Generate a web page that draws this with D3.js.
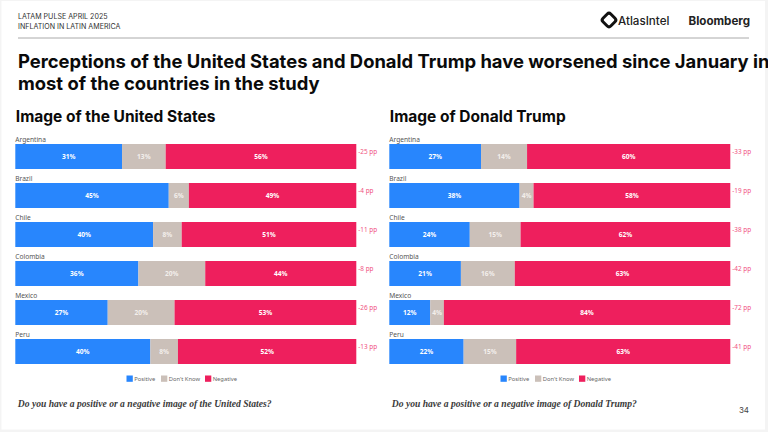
<!DOCTYPE html>
<html><head><meta charset="utf-8">
<script src="https://cdn.jsdelivr.net/npm/d3@7"></script>
<style>html,body{margin:0;padding:0;background:#f4f4f4;overflow:hidden}svg{display:block}</style>
</head><body><svg id="c" width="768" height="432"></svg>
<script>
const countries = ["Argentina","Brazil","Chile","Colombia","Mexico","Peru"];
const categories = ["Positive","Don't Know","Negative"];
const colors = ["#2886fd","#cbc0b9","#ee1f5d"];
const usPositive = [31.3,45.0,40.4,36.1,27.1,39.6];
const usDontKnow = [12.8,5.9,8.4,19.6,19.6,8.1];
const usNegative = [55.9,49.1,51.2,44.3,53.3,52.3];
const usChange = ["-25 pp","-4 pp","-11 pp","-8 pp","-26 pp","-13 pp"];
const trumpPositive = [26.9,38.2,23.6,21.0,12.0,21.8];
const trumpDontKnow = [13.5,4.1,14.9,15.8,4.0,15.4];
const trumpNegative = [59.6,57.7,61.5,63.2,84.0,62.8];
const trumpChange = ["-33 pp","-19 pp","-38 pp","-42 pp","-72 pp","-41 pp"];

const svg = d3.select("#c");
svg.append("rect").attr("x",1.5).attr("y",1).attr("width",763.5).attr("height",428.5).attr("fill","#fff");
const sans = "Inter, 'Noto Sans', sans-serif";
function txt(x,y,s,size,weight,fill,font,anchor,style){
  return svg.append("text").attr("x",x).attr("y",y).text(s).attr("font-size",size).attr("font-weight",weight)
   .attr("fill",fill).attr("font-family",font||sans).attr("text-anchor",anchor||"start").attr("font-style",style||"normal");
}
txt(18,19,"LATAM PULSE APRIL 2025",7.1,400,"#333");
txt(18,28.5,"INFLATION IN LATIN AMERICA",7.1,400,"#333");
svg.append("line").attr("x1",18).attr("x2",749).attr("y1",38).attr("y2",38).attr("stroke","#aaa").attr("stroke-width",1);
txt(18,68,"Perceptions of the United States and Donald Trump have worsened since January in",18.4,700,"#0a0a0a");
txt(18,90,"most of the countries in the study",18.4,700,"#0a0a0a");

// logos
svg.append("rect").attr("x",603.5).attr("y",14.5).attr("width",11).attr("height",11).attr("rx",2.5)
  .attr("transform","rotate(45 609 20)").attr("fill","none").attr("stroke","#111").attr("stroke-width",3);
txt(618,25,"AtlasIntel",11.6,500,"#222");
txt(688.5,24.5,"Bloomberg",11.6,700,"#222");
txt(749,198+0,"",8);
txt(749,413,"34",8,400,"#444",null,"end");

function panel(title,x0,question,pos,dk,neg,change,legendX){
  txt(x0+0.5,122,title,15.5,700,"#0a0a0a");
  const x=d3.scaleLinear().domain([0,100]).range([x0,x0+341]);
  const y=d3.scaleBand().domain(countries).range([144,144+39*6]).paddingInner(0).paddingOuter(0);
  const rows=countries.map((c,i)=>({c,Positive:pos[i],"Don't Know":dk[i],Negative:neg[i],chg:change[i]}));
  const stack=d3.stack().keys(categories)(rows);
  const h=25;
  stack.forEach((s,k)=>{
    const g=svg.append("g");
    g.selectAll("rect").data(s).join("rect")
      .attr("x",d=>x(d[0])).attr("width",d=>x(d[1])-x(d[0]))
      .attr("y",d=>y(d.data.c)).attr("height",h).attr("fill",colors[k]);
    g.selectAll("text").data(s).join("text")
      .attr("x",d=>(x(d[0])+x(d[1]))/2).attr("y",d=>y(d.data.c)+h/2+2.3)
      .attr("text-anchor","middle").attr("font-size",6.6).attr("font-weight",700)
      .attr("font-family","'Noto Sans', sans-serif").attr("fill",k==1?"#f3efec":"#fff")
      .text(d=>Math.round(d[1]-d[0])+"%");
  });
  svg.append("g").selectAll("text").data(rows).join("text")
    .attr("x",x0).attr("y",d=>y(d.c)-2).text(d=>d.c)
    .attr("font-size",6.6).attr("font-family","'Noto Sans', sans-serif").attr("fill","#555");
  svg.append("g").selectAll("text").data(rows).join("text")
    .attr("x",x(100)+2).attr("y",d=>y(d.c)+10).text(d=>d.chg)
    .attr("font-size",6.4).attr("font-family","'Noto Sans', sans-serif").attr("fill","#f0527f");
  // legend
  const lw=[34.5,44,0]; let lx=legendX;
  categories.forEach((c,i)=>{
    svg.append("rect").attr("x",lx).attr("y",375.5).attr("width",6.3).attr("height",6.3).attr("fill",colors[i]);
    svg.append("text").attr("x",lx+7.7).attr("y",381.2).text(c).attr("font-size",5.8)
      .attr("font-family","'Noto Sans', sans-serif").attr("fill","#666");
    lx+=lw[i];
  });
  txt(x0+2.5,407,question,9.6,700,"#3a3a3a","'Liberation Serif', serif","start","italic");
}
panel("Image of the United States",15.3,"Do you have a positive or a negative image of the United States?",usPositive,usDontKnow,usNegative,usChange,126.5);
panel("Image of Donald Trump",389.3,"Do you have a positive or a negative image of Donald Trump?",trumpPositive,trumpDontKnow,trumpNegative,trumpChange,500.5);
</script></body></html>
